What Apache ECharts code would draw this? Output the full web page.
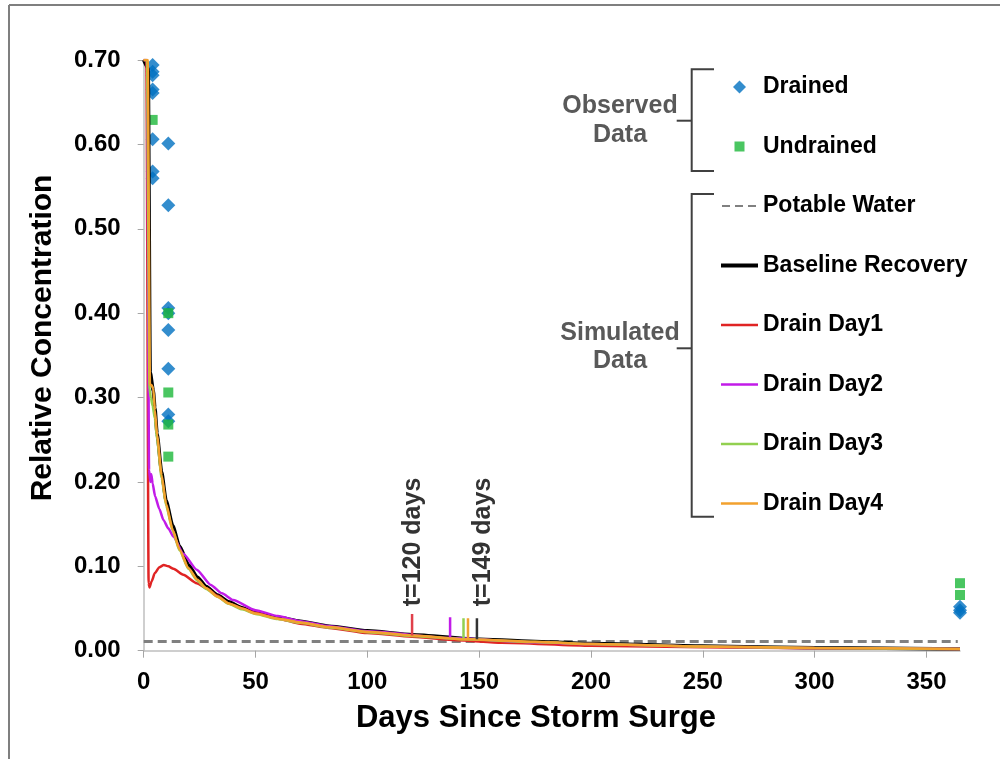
<!DOCTYPE html>
<html>
<head>
<meta charset="utf-8">
<script src="https://cdn.jsdelivr.net/npm/echarts@6.0.0/dist/echarts.min.js"></script>
<style>
html, body { margin: 0; padding: 0; background: #fff; }
#chart { width: 1000px; height: 759px; }
</style>
</head>
<body>
<div id="chart"></div>
<script>
// observed samples [day, relative concentration]
const drainedObs = [
    [4, 0.694], [4, 0.686], [4, 0.682], [4, 0.665], [4, 0.661], [4, 0.606], [4, 0.568], [4, 0.560],
    [11, 0.601], [11, 0.528], [11, 0.406], [11, 0.400], [11, 0.380], [11, 0.334], [11, 0.280], [11, 0.272],
    [365, 0.052], [365, 0.048], [365, 0.045]
]
const undrainedObs = [
    [4, 0.629],
    [11, 0.400], [11, 0.306], [11, 0.268], [11, 0.230],
    [365, 0.080], [365, 0.066]
]

// simulated curves [day, relative concentration]
const potableWater = [[0, 0.011], [364, 0.011]]
const baselineRecovery = [
    [0, 0.70], [2, 0.69], [2.9, 0.33], [4.3, 0.308], [5, 0.288], [6, 0.257], [8, 0.212],
    [10, 0.178], [13, 0.148], [16, 0.124], [20, 0.102], [24, 0.087], [28, 0.076], [33, 0.066], [38, 0.058],
    [44, 0.051], [50, 0.045], [60, 0.0395], [70, 0.035], [83, 0.029], [100, 0.0235], [120, 0.019],
    [150, 0.0135], [175, 0.011], [200, 0.0085], [250, 0.0055], [300, 0.0035], [365, 0.002]
]
const drainDay1 = [
    [0, 0.70], [1.2, 0.70], [2.2, 0.08], [2.6, 0.075], [3.5, 0.082], [5, 0.092], [7, 0.099], [9, 0.1015],
    [11, 0.100], [13.3, 0.097], [17.7, 0.090], [23.7, 0.080], [28, 0.074], [33, 0.065], [38, 0.056],
    [44, 0.050], [50, 0.045], [60, 0.038], [70, 0.032], [83, 0.027], [100, 0.021], [120, 0.0165],
    [140, 0.0125], [160, 0.0095], [200, 0.006], [250, 0.004], [300, 0.0028], [365, 0.002]
]
const drainDay2 = [
    [0, 0.70], [1.5, 0.70], [2.4, 0.214], [3, 0.200], [3.4, 0.209], [4, 0.198], [5.1, 0.183], [7, 0.168],
    [8.8, 0.155], [11, 0.145], [13.3, 0.135], [17.7, 0.115], [23.7, 0.096], [30, 0.078], [35, 0.068],
    [40, 0.060], [50, 0.048], [60, 0.041], [70, 0.035], [83, 0.029], [100, 0.023], [137, 0.015],
    [175, 0.010], [200, 0.0078], [250, 0.005], [300, 0.0033], [365, 0.002]
]
const drainDay3 = [
    [0, 0.70], [1.5, 0.70], [2.6, 0.31], [3.2, 0.300], [4, 0.290], [5, 0.275], [6, 0.250], [8, 0.205],
    [10, 0.172], [13, 0.142], [16, 0.119], [20, 0.097], [24, 0.083], [28, 0.073], [33, 0.064], [38, 0.0555],
    [44, 0.049], [50, 0.0435], [60, 0.0375], [70, 0.033], [83, 0.0275], [100, 0.022], [120, 0.0175],
    [143, 0.0135], [175, 0.0103], [200, 0.0078], [250, 0.0049], [300, 0.0032], [365, 0.002]
]
const drainDay4 = [
    [0, 0.70], [1.8, 0.70], [2.8, 0.315], [3.5, 0.315], [4.3, 0.310], [5, 0.285], [6, 0.255], [8, 0.208],
    [10, 0.174], [13, 0.143], [16, 0.120], [20, 0.098], [24, 0.084], [28, 0.074], [33, 0.064], [38, 0.056],
    [44, 0.050], [50, 0.044], [60, 0.038], [70, 0.0335], [83, 0.028], [100, 0.0225], [120, 0.018],
    [145, 0.0135], [175, 0.0105], [200, 0.008], [250, 0.005], [300, 0.0033], [365, 0.002]
]

// day each simulation reaches potable level, short marker segment [day, from, to]
const markDay1 = [120, 0.018, 0.0435]
const markDay2 = [137, 0.016, 0.0396]
const markDay3 = [143, 0.0147, 0.0384]
const markDay4 = [145, 0.0145, 0.0384]
const markBaseline = [149, 0.0135, 0.0384]

const xTicks = [0, 50, 100, 150, 200, 250, 300, 350]

const FONT = '"Liberation Sans", Arial, sans-serif'

// legend icons (paths keep their aspect inside the 37x13 icon box)
const ICON_DIAMOND = 'path://M0,0M37,13M18.5,-0.5L25.5,6.5L18.5,13.5L11.5,6.5Z'
const ICON_SQUARE = 'path://M0,0M37,13M13.5,1.5h10v10h-10z'
const ICON_DASH = 'path://M0,0M37,13M1,5.5h8v2h-8zM14,5.5h8v2h-8zM27,5.5h8v2h-8z'
const ICON_THICK = 'path://M0,0M37,13M0,4.5h37v4h-37z'
const ICON_THIN = 'path://M0,0M37,13M0,5.3h37v2.4h-37z'

function markSeries(name, m, color) {
    return {
        name: name,
        type: 'line',
        data: [[m[0], m[1]], [m[0], m[2]]],
        symbol: 'none',
        silent: true,
        lineStyle: { color: color, width: 2.5 }
    }
}

function curveSeries(name, data, color, width) {
    return {
        name: name,
        type: 'line',
        data: data,
        symbol: 'none',
        smooth: 0.2,
        smoothMonotone: 'x',
        color: color,
        lineStyle: { color: color, width: width }
    }
}

const chart = echarts.init(document.getElementById('chart'))

chart.setOption({
    animation: false,
    textStyle: { fontFamily: FONT },
    grid: { left: 143.7, right: 40, top: 60, bottom: 108.3 },
    xAxis: {
        type: 'value',
        min: 0,
        max: 365,
        interval: 50,
        splitLine: { show: false },
        axisLine: { lineStyle: { color: '#bfbfbf', width: 1.5 } },
        axisTick: { show: true, length: 7, customValues: xTicks, lineStyle: { color: '#a6a6a6' } },
        axisLabel: {
            customValues: xTicks,
            margin: 20,
            fontSize: 24,
            fontWeight: 'bold',
            color: '#000',
            fontFamily: FONT
        }
    },
    yAxis: {
        type: 'value',
        min: 0,
        max: 0.7,
        interval: 0.1,
        splitLine: { show: false },
        axisLine: { show: true, lineStyle: { color: '#bfbfbf', width: 1.5 } },
        axisTick: { show: true, length: 6, lineStyle: { color: '#a6a6a6' } },
        axisLabel: {
            margin: 23,
            fontSize: 24,
            fontWeight: 'bold',
            color: '#000',
            fontFamily: FONT,
            formatter: v => v.toFixed(2)
        }
    },
    legend: {
        data: [
            { name: 'Drained', icon: ICON_DIAMOND },
            { name: 'Undrained', icon: ICON_SQUARE },
            { name: 'Potable Water', icon: ICON_DASH },
            { name: 'Baseline Recovery', icon: ICON_THICK },
            { name: 'Drain Day1', icon: ICON_THIN },
            { name: 'Drain Day2', icon: ICON_THIN },
            { name: 'Drain Day3', icon: ICON_THIN },
            { name: 'Drain Day4', icon: ICON_THIN }
        ],
        orient: 'vertical',
        left: 721,
        top: 75,
        padding: 0,
        itemWidth: 37,
        itemHeight: 13,
        itemGap: 35.5,
        selectedMode: false,
        itemStyle: { borderWidth: 0 },
        lineStyle: { width: 0 },
        textStyle: { fontSize: 23, fontWeight: 'bold', color: '#000', fontFamily: FONT, lineHeight: 24 }
    },
    series: [
        {
            name: 'Drained',
            type: 'scatter',
            data: drainedObs,
            symbol: 'diamond',
            symbolSize: 14,
            itemStyle: { color: '#0070C0' }
        },
        {
            name: 'Undrained',
            type: 'scatter',
            data: undrainedObs,
            symbol: 'rect',
            symbolSize: 10,
            itemStyle: { color: '#1DB83A' }
        },
        {
            name: 'Potable Water',
            type: 'line',
            data: potableWater,
            symbol: 'none',
            color: '#808080',
            lineStyle: { color: '#808080', width: 3, type: [9, 5] }
        },
        curveSeries('Baseline Recovery', baselineRecovery, '#000000', 3.5),
        curveSeries('Drain Day1', drainDay1, '#E02424', 2.5),
        curveSeries('Drain Day2', drainDay2, '#C21BE8', 2.5),
        curveSeries('Drain Day3', drainDay3, '#92D050', 2.5),
        curveSeries('Drain Day4', drainDay4, '#F2A12E', 2.5),
        markSeries('m1', markDay1, '#E0404A'),
        markSeries('m2', markDay2, '#C21BE8'),
        markSeries('m3', markDay3, '#92D050'),
        markSeries('m4', markDay4, '#F2A12E'),
        markSeries('m0', markBaseline, '#333333')
    ],
    graphic: [
        // figure frame
        { type: 'line', shape: { x1: 9, y1: 5, x2: 1000, y2: 5 }, style: { stroke: '#7f7f7f', lineWidth: 2 } },
        { type: 'line', shape: { x1: 9, y1: 5, x2: 9, y2: 759 }, style: { stroke: '#7f7f7f', lineWidth: 2 } },
        // axis titles
        {
            type: 'text', x: 43, y: 338, rotation: Math.PI / 2,
            style: { text: 'Relative Concentration', font: 'bold 30px ' + FONT, fill: '#000', align: 'center', verticalAlign: 'middle' }
        },
        {
            type: 'text', x: 536, y: 718,
            style: { text: 'Days Since Storm Surge', font: 'bold 31px ' + FONT, fill: '#000', align: 'center', verticalAlign: 'middle' }
        },
        // annotations
        {
            type: 'text', x: 413, y: 542, rotation: Math.PI / 2,
            style: { text: 't=120 days', font: 'bold 25px ' + FONT, fill: '#333', align: 'center', verticalAlign: 'middle' }
        },
        {
            type: 'text', x: 483, y: 542, rotation: Math.PI / 2,
            style: { text: 't=149 days', font: 'bold 25px ' + FONT, fill: '#333', align: 'center', verticalAlign: 'middle' }
        },
        // legend groups
        {
            type: 'polyline', shape: { points: [[714, 69.3], [691.7, 69.3], [691.7, 171], [714, 171]] },
            style: { stroke: '#404040', lineWidth: 2, fill: null }
        },
        { type: 'line', shape: { x1: 676.7, y1: 120.7, x2: 691.7, y2: 120.7 }, style: { stroke: '#404040', lineWidth: 2 } },
        {
            type: 'polyline', shape: { points: [[714, 194], [691.7, 194], [691.7, 516.7], [714, 516.7]] },
            style: { stroke: '#404040', lineWidth: 2, fill: null }
        },
        { type: 'line', shape: { x1: 676.7, y1: 348.3, x2: 691.7, y2: 348.3 }, style: { stroke: '#404040', lineWidth: 2 } },
        {
            type: 'text', x: 620, y: 121,
            style: { text: 'Observed\nData', font: 'bold 25px ' + FONT, fill: '#595959', align: 'center', verticalAlign: 'middle', lineHeight: 29 }
        },
        {
            type: 'text', x: 620, y: 347,
            style: { text: 'Simulated\nData', font: 'bold 25px ' + FONT, fill: '#595959', align: 'center', verticalAlign: 'middle', lineHeight: 28 }
        }
    ]
})
</script>
</body>
</html>
